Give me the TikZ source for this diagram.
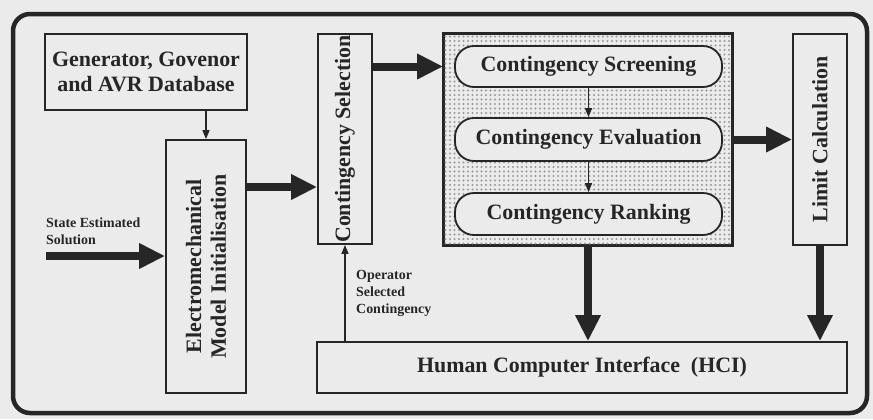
\documentclass[tikz,border=0pt]{standalone}
\usepackage{fontspec}
\setmainfont{Liberation Serif}
\usetikzlibrary{arrows.meta,patterns}

% fine dot texture for the analysis block
\pgfdeclarepatternformonly{finedots}{\pgfpoint{-1.5bp}{-1.5bp}}{\pgfpoint{1.5bp}{1.5bp}}{\pgfpoint{4.5bp}{4.5bp}}%
  {\pgfpathcircle{\pgfpointorigin}{1.05bp}\pgfusepath{fill}}

\definecolor{bg}{HTML}{EBEBEB}
\definecolor{ink}{HTML}{262626}

\tikzset{
  block/.style={draw=ink, line width=1.8bp, fill=bg, text=ink,
    font=\fontsize{22}{25}\selectfont\bfseries, inner sep=0pt, align=center},
  vblock/.style={block, rotate=90},
  pill/.style={block, rounded corners=19bp},
  small/.style={text=ink, font=\fontsize{14}{17}\selectfont\bfseries, align=left, inner sep=0pt},
  bigarrow/.style={draw=ink, line width=8bp, -{Triangle[width=24bp,length=26bp]}},
  thinarrow/.style={draw=ink, line width=1.5bp, -{Triangle[width=7bp,length=9bp]}}
}

\begin{document}
\begin{tikzpicture}[x=1bp, y=-1bp]
  \useasboundingbox (0,0) rectangle (873,419);
  \fill[bg] (0,0) rectangle (873,419);

  % outer frame
  \draw[ink, line width=4.5bp, rounded corners=17bp] (13,14) rectangle (867,413);

  % left column
  \node[block, minimum width=202bp, minimum height=76bp] (gen) at (146,72)
    {Generator, Govenor\\and AVR Database};
  \node[vblock, minimum width=253bp, minimum height=80bp] (emi) at (206,266.5)
    {Electromechanical\\Model Initialisation};
  \node[small, anchor=west] (state) at (46,231) {State Estimated\\Solution};
  \coordinate (start) at (46,256);

  % selection
  \node[vblock, minimum width=210bp, minimum height=54bp] (csel) at (345,139)
    {Contingency Selection};

  % analysis block
  \node[draw=ink, line width=1.8bp, fill=bg, minimum width=288bp, minimum height=211bp,
        inner sep=0pt] (shade) at (588,139.5) {};
  \fill[pattern=finedots, pattern color=gray!80]
    (shade.north west) rectangle (shade.south east);
  \draw[ink, line width=1.8bp] (shade.north west) rectangle (shade.south east);
  \node[pill, minimum width=267bp, minimum height=41bp] (scr) at (588.5,66.5)
    {Contingency Screening};
  \node[pill, minimum width=267bp, minimum height=43bp] (eva) at (588.5,139.5)
    {Contingency Evaluation};
  \node[pill, minimum width=267bp, minimum height=42bp] (rnk) at (588.5,214)
    {Contingency Ranking};

  % limits
  \node[vblock, minimum width=211bp, minimum height=54bp] (lim) at (820,139.5)
    {Limit Calculation};

  % interface
  \node[block, minimum width=530bp, minimum height=51bp] (hci) at (582,367.5)
    {Human Computer Interface\ \ (HCI)};
  \node[small, anchor=west] (op) at (356,293) {Operator\\Selected\\Contingency};

  % connectors (rotated boxes: north = left side, east = top, south = right, west = bottom)
  \coordinate (rowA) at (0,187);
  \draw[thinarrow] (emi.east |- gen.south) -- (emi.east);
  \draw[bigarrow] (start) -- (start -| emi.north);
  \draw[bigarrow] (emi.south |- rowA) -- (csel.north |- rowA);
  \draw[bigarrow] (csel.south |- scr) -- (shade.west |- scr);
  \draw[bigarrow] (shade.east) -- (lim.north);
  \draw[thinarrow] (scr.south) -- (eva.north);
  \draw[thinarrow] (eva.south) -- (rnk.north);
  \draw[bigarrow] (shade.south) -- (shade.south |- hci.north);
  \draw[bigarrow] (lim.west) -- (lim.west |- hci.north);
  \draw[thinarrow] (csel.west |- hci.north) -- (csel.west);
\end{tikzpicture}
\end{document}
